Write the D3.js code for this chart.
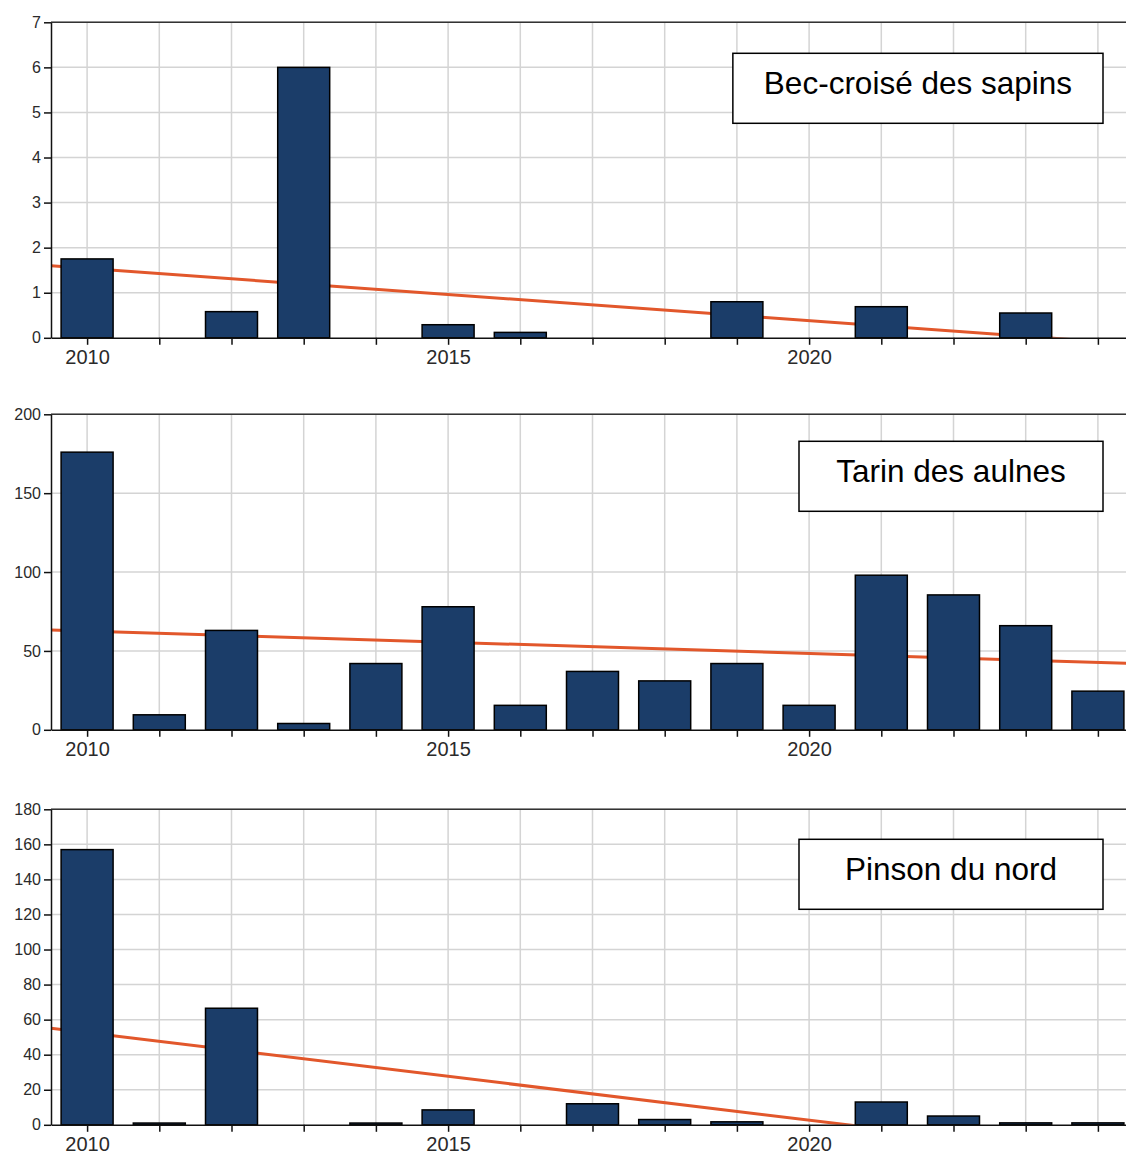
<!doctype html>
<html>
  <head>
    <meta charset="utf-8">
    <script src="https://cdnjs.cloudflare.com/ajax/libs/d3/7.8.5/d3.min.js"></script>
    <style>
      body { margin: 0; background: #fff; }
      svg { display: block; font-family: "Liberation Sans", Arial, sans-serif; }
      line.grid { stroke: #d4d4d4; stroke-width: 1.5; }
      rect.bar { fill: #1b3d69; stroke: #000; stroke-width: 1.5; }
      path.trend { fill: none; stroke: #e2572b; stroke-width: 3; }
      .axis path, .axis line { stroke: #111; stroke-width: 1.5; }
      .axis text { fill: #2a2a2a; }
      rect.legend { fill: #fff; stroke: #000; stroke-width: 1.5; }
      text.legend { fill: #000; font-size: 31.5px; }
    </style>
  </head>
  <body>
    <svg width="1126" height="1156"></svg>
    <script>
      // annees et valeurs
      var years = [2010, 2011, 2012, 2013, 2014, 2015, 2016, 2017, 2018, 2019, 2020, 2021, 2022, 2023, 2024];
      var yearLabels = [2010, 2015, 2020];

      var species = ["Bec-croisé des sapins", "Tarin des aulnes", "Pinson du nord"];

      var becCroise = [1.75, 0, 0.58, 6.0, 0, 0.29, 0.12, 0, 0, 0.8, 0, 0.69, 0, 0.55, 0];
      var tarin = [176, 9.5, 63, 4, 42, 78, 15.5, 37, 31, 42, 15.5, 98, 85.5, 66, 24.5];
      var pinson = [157, 1, 66.5, 0, 1, 8.5, 0, 12, 3, 1.7, 0, 13, 5, 1.1, 1.1];

      // droite de tendance : valeur au debut et a la fin de l'axe
      var trendBec = [1.6, -0.14];
      var trendTarin = [63.3, 42.0];
      var trendPinson = [55.1, -19.8];

      var yMax = [7, 200, 180];
      var yStep = [1, 50, 20];

      var panels = [
        { name: species[0], values: becCroise, trend: trendBec, max: yMax[0], step: yStep[0] },
        { name: species[1], values: tarin, trend: trendTarin, max: yMax[1], step: yStep[1] },
        { name: species[2], values: pinson, trend: trendPinson, max: yMax[2], step: yStep[2] }
      ];

      var svg = d3.select("svg");
      var left = 51, right = 1134;
      var tops = [22.3, 414.3, 809.3];
      var plotH = 315.5;
      var legendOffset = [31, 27, 30];

      var x = d3.scaleLinear()
        .domain([years[0] - 0.5, years[years.length - 1] + 0.5])
        .range([left, right]);
      var barW = (x(1) - x(0)) * 0.72;

      panels.forEach(function(p, i) {
        var top = tops[i], bottom = top + plotH;
        var y = d3.scaleLinear().domain([0, p.max]).range([bottom, top]);
        var yTicks = d3.range(0, p.max + p.step / 2, p.step);
        var g = svg.append("g");

        g.append("clipPath").attr("id", "clip" + i)
          .append("rect")
            .attr("x", left).attr("y", top)
            .attr("width", right - left).attr("height", plotH);

        // grille
        g.selectAll("line.hgrid").data(yTicks.slice(1)).enter()
          .append("line")
            .attr("class", "grid")
            .attr("x1", left).attr("x2", right)
            .attr("y1", d => y(d)).attr("y2", d => y(d));
        g.selectAll("line.vgrid").data(years).enter()
          .append("line")
            .attr("class", "grid")
            .attr("x1", d => x(d)).attr("x2", d => x(d))
            .attr("y1", top).attr("y2", bottom);

        // tendance (sous les barres)
        g.append("path")
          .datum(x.domain().map((d, k) => [d, p.trend[k]]))
          .attr("class", "trend")
          .attr("clip-path", "url(#clip" + i + ")")
          .attr("d", d3.line().x(d => x(d[0])).y(d => y(d[1])));

        g.selectAll("rect.bar")
          .data(years.map((yr, k) => ({ year: yr, value: p.values[k] })).filter(d => d.value > 0))
          .enter()
          .append("rect")
            .attr("class", "bar")
            .attr("x", d => x(d.year) - barW / 2)
            .attr("width", barW)
            .attr("y", d => y(d.value))
            .attr("height", d => bottom - y(d.value));

        // cadre haut
        g.append("line")
          .attr("x1", left).attr("x2", right)
          .attr("y1", top).attr("y2", top)
          .style("stroke", "#333").style("stroke-width", 1.5);

        g.append("g")
          .attr("class", "axis")
          .attr("transform", "translate(" + left + ",0)")
          .call(d3.axisLeft(y).tickValues(yTicks).tickFormat(d3.format("d"))
            .tickSize(7).tickSizeOuter(0).tickPadding(3))
          .call(s => s.selectAll("text").style("font-size", "16px"));

        g.append("g")
          .attr("class", "axis")
          .attr("transform", "translate(0," + bottom + ")")
          .call(d3.axisBottom(x).tickValues(years).tickSize(7).tickSizeOuter(0).tickPadding(5)
            .tickFormat(d => yearLabels.indexOf(d) >= 0 ? d : ""))
          .call(s => s.selectAll("text").style("font-size", "20px"));

        // legende
        var lg = g.append("g");
        var txt = lg.append("text")
          .attr("class", "legend")
          .attr("text-anchor", "middle")
          .text(p.name);
        var tw = txt.node().getComputedTextLength();
        var bw = Math.max(304, tw + 62), bh = 70;
        var bx = 1103 - bw, by = top + legendOffset[i];
        lg.insert("rect", "text")
          .attr("class", "legend")
          .attr("x", bx).attr("y", by)
          .attr("width", bw).attr("height", bh);
        txt.attr("x", bx + bw / 2).attr("y", by + 41);
      });
    </script>
  </body>
</html>
